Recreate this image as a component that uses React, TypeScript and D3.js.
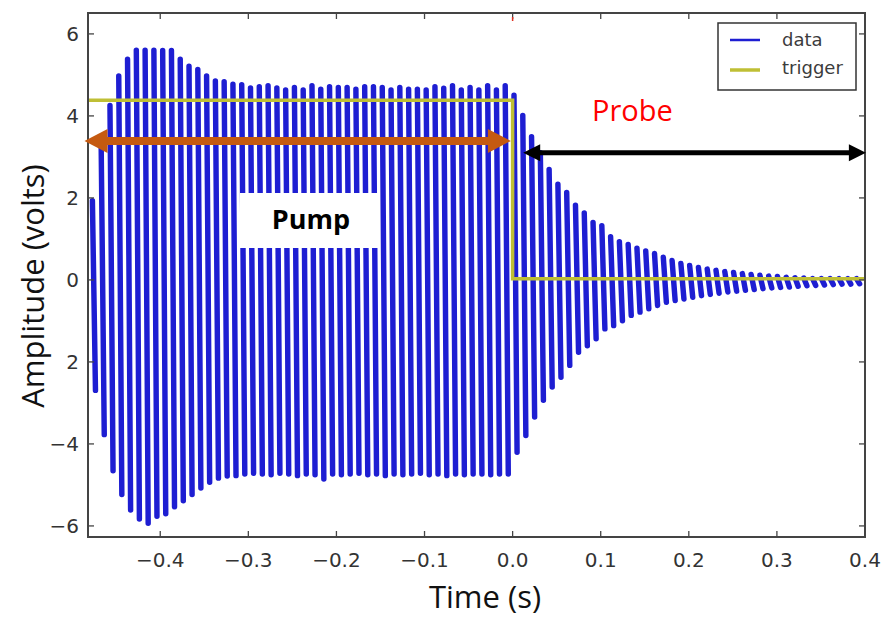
import React from "react";
import * as d3 from "d3";

const W = 886;
const H = 618;

// axis domains
const X_DOMAIN: [number, number] = [-0.482, 0.4];
const Y_DOMAIN: [number, number] = [-6.27, 6.51];

const xTicks = [-0.4, -0.3, -0.2, -0.1, 0.0, 0.1, 0.2, 0.3, 0.4];
const xTickLabels = ["−0.4", "−0.3", "−0.2", "−0.1", "0.0", "0.1", "0.2", "0.3", "0.4"];
const yTicks = [6, 4, 2, 0, -2, -4, -6];
const yTickLabels = ["6", "4", "2", "0", "2", "−4", "−6"];

// oscillation: one entry per cycle (positive and negative peak)
const CYCLE_START = -0.477;
const CYCLE_PERIOD = 0.00997;

const upperPeaks = [
  2.0, 3.3, 4.32, 5.04, 5.45, 5.67, 5.67, 5.67, 5.66, 5.66,
  5.45, 5.28, 5.2, 5.04, 4.92, 4.9, 4.84, 4.83, 4.75, 4.78,
  4.8, 4.75, 4.7, 4.76, 4.7, 4.8, 4.72, 4.78, 4.76, 4.76,
  4.72, 4.78, 4.78, 4.76, 4.7, 4.76, 4.72, 4.72, 4.7, 4.78,
  4.74, 4.8, 4.7, 4.76, 4.7, 4.8, 4.7, 4.8, 4.57, 4.08,
  3.56, 3.17, 2.76, 2.4, 2.2, 1.89, 1.7, 1.47, 1.39, 1.12,
  1.0, 0.93, 0.84, 0.77, 0.71, 0.62, 0.54, 0.47, 0.42, 0.37,
  0.33, 0.3, 0.27, 0.25, 0.22, 0.2, 0.18, 0.16, 0.15, 0.13,
  0.12, 0.11, 0.1, 0.1, 0.1, 0.1, 0.1, 0.1,
];

const lowerPeaks = [
  -2.76, -3.84, -4.72, -5.3, -5.68, -5.9, -6.0, -5.83, -5.77, -5.6,
  -5.45, -5.3, -5.14, -5.0, -4.9, -4.85, -4.84, -4.8, -4.78, -4.8,
  -4.82, -4.78, -4.8, -4.84, -4.8, -4.82, -4.92, -4.8, -4.82, -4.8,
  -4.78, -4.82, -4.8, -4.84, -4.8, -4.82, -4.8, -4.78, -4.82, -4.8,
  -4.84, -4.8, -4.82, -4.8, -4.8, -4.82, -4.8, -4.8, -4.27, -3.86,
  -3.41, -3.0, -2.68, -2.44, -2.15, -1.83, -1.67, -1.5, -1.26, -1.18,
  -1.06, -0.93, -0.85, -0.77, -0.69, -0.61, -0.57, -0.53, -0.49, -0.45,
  -0.42, -0.39, -0.36, -0.34, -0.32, -0.3, -0.28, -0.26, -0.25, -0.24,
  -0.22, -0.21, -0.2, -0.19, -0.18, -0.17, -0.17, -0.16,
];

// trigger step
const triggerTimes = [-0.482, 0.0, 0.0, 0.4];
const triggerValues = [4.38, 4.38, 0.03, 0.03];

const legendLabels = ["data", "trigger"];

// annotation arrows (in data units)
const pumpArrow = { from: -0.486, to: -0.002, value: 3.39 };
const probeArrow = { from: 0.012, to: 0.401, value: 3.1 };

const PLOT = { left: 88, right: 865, top: 13, bottom: 537 };
const DATA_COLOR = "#1e1ed2";
const TRIGGER_COLOR = "#bfbf35";
const AXIS_COLOR = "#444";

export default function App() {
  const x = d3.scaleLinear().domain(X_DOMAIN).range([PLOT.left, PLOT.right]);
  const y = d3.scaleLinear().domain(Y_DOMAIN).range([PLOT.bottom, PLOT.top]);

  const cyclePx = x(CYCLE_PERIOD) - x(0);
  const barW = cyclePx * 0.62;
  const cap = barW / 2;

  const bars = upperPeaks.map((u, i) => {
    const t = CYCLE_START + i * CYCLE_PERIOD;
    const x1 = x(t);
    const x2 = x(t + CYCLE_PERIOD * 0.35);
    let y1 = y(u) + cap;
    let y2 = y(lowerPeaks[i]) - cap;
    if (y2 < y1) {
      const m = (y1 + y2) / 2;
      y1 = m;
      y2 = m;
    }
    return `M${x1},${y1}L${x2},${y2}`;
  });

  const trigLine = d3
    .line<number>()
    .x((_, i) => x(triggerTimes[i]))
    .y((v) => y(v));
  const trigPath = trigLine(triggerValues) || "";

  const tickLen = 6;

  const arrow = (
    x0: number,
    x1: number,
    yy: number,
    headL: number,
    headH: number,
    shaft: number,
    color: string
  ) => (
    <g>
      <line x1={x0 + headL - 1} x2={x1 - headL + 1} y1={yy} y2={yy} stroke={color} strokeWidth={shaft} />
      <polygon points={`${x0},${yy} ${x0 + headL},${yy - headH / 2} ${x0 + headL},${yy + headH / 2}`} fill={color} />
      <polygon points={`${x1},${yy} ${x1 - headL},${yy - headH / 2} ${x1 - headL},${yy + headH / 2}`} fill={color} />
    </g>
  );

  return (
    <svg
      width={W}
      height={H}
      style={{ position: "absolute", left: 0, top: 0, background: "#fff" }}
      fontFamily="DejaVu Sans, sans-serif"
    >
      <rect x={0} y={0} width={W} height={H} fill="#fff" />
      <defs>
        <clipPath id="plotclip">
          <rect x={PLOT.left} y={PLOT.top} width={PLOT.right - PLOT.left} height={PLOT.bottom - PLOT.top} />
        </clipPath>
      </defs>

      <g clipPath="url(#plotclip)">
        {bars.map((d, i) => (
          <path key={i} d={d} stroke={DATA_COLOR} strokeWidth={barW} strokeLinecap="round" fill="none" />
        ))}
        <path d={trigPath} stroke={TRIGGER_COLOR} strokeWidth={3.5} fill="none" />
      </g>

      {/* frame */}
      <rect
        x={PLOT.left}
        y={PLOT.top}
        width={PLOT.right - PLOT.left}
        height={PLOT.bottom - PLOT.top}
        fill="none"
        stroke={AXIS_COLOR}
        strokeWidth={2}
      />

      {/* x ticks */}
      {xTicks.map((t, i) => (
        <g key={"xt" + i}>
          <line x1={x(t)} x2={x(t)} y1={PLOT.bottom} y2={PLOT.bottom - tickLen} stroke={AXIS_COLOR} strokeWidth={1.3} />
          <line x1={x(t)} x2={x(t)} y1={PLOT.top} y2={PLOT.top + tickLen} stroke={AXIS_COLOR} strokeWidth={1.3} />
          <text x={x(t)} y={567} textAnchor="middle" fontSize={20} fill="#333">
            {xTickLabels[i]}
          </text>
        </g>
      ))}
      <line x1={x(0)} x2={x(0)} y1={17} y2={21} stroke="#e03020" strokeWidth={1.5} />

      {/* y ticks */}
      {yTicks.map((v, i) => (
        <g key={"yt" + i}>
          <line x1={PLOT.left} x2={PLOT.left + tickLen} y1={y(v)} y2={y(v)} stroke={AXIS_COLOR} strokeWidth={1.3} />
          <line x1={PLOT.right} x2={PLOT.right - tickLen} y1={y(v)} y2={y(v)} stroke={AXIS_COLOR} strokeWidth={1.3} />
          <text x={79} y={y(v) + 7} textAnchor="end" fontSize={20} fill="#333">
            {yTickLabels[i]}
          </text>
        </g>
      ))}

      {/* axis titles */}
      <text x={485} y={608} textAnchor="middle" fontSize={31} fontFamily="Open Sans, sans-serif" fill="#111">
        Time (s)
      </text>
      <text
        transform={`translate(44,286) rotate(-90)`}
        textAnchor="middle"
        fontSize={31}
        fontFamily="Open Sans, sans-serif"
        fill="#111"
      >
        Amplitude (volts)
      </text>

      {/* legend */}
      <g>
        <rect x={718} y={23} width={138} height={67} fill="#fff" stroke="#333" strokeWidth={1.5} />
        <line x1={730} x2={760} y1={40} y2={40} stroke={DATA_COLOR} strokeWidth={2.5} />
        <line x1={730} x2={760} y1={70} y2={70} stroke={TRIGGER_COLOR} strokeWidth={3.5} />
        <text x={782} y={46} fontSize={18} fill="#3c3c3c">
          {legendLabels[0]}
        </text>
        <text x={782} y={74} fontSize={18} fill="#3c3c3c">
          {legendLabels[1]}
        </text>
      </g>

      {/* annotations */}
      {arrow(x(pumpArrow.from), x(pumpArrow.to), y(pumpArrow.value), 23, 24, 8, "#c55a11")}
      {arrow(x(probeArrow.from), x(probeArrow.to), y(probeArrow.value), 17, 17, 5, "#000")}

      <text x={592} y={121} fontSize={29} fontFamily="Open Sans, sans-serif" fill="#ff0000">
        Probe
      </text>

      <rect x={240} y={193} width={138} height={55} fill="#fff" />
      <text x={311} y={229} textAnchor="middle" fontSize={27} fontWeight="bold" fontFamily="Open Sans, sans-serif" fill="#000">
        Pump
      </text>
    </svg>
  );
}
